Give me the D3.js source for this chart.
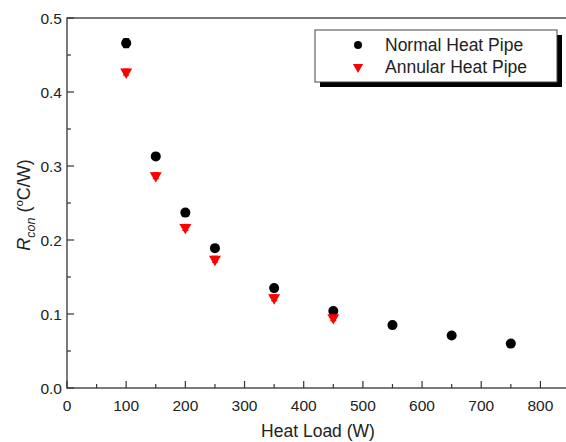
<!DOCTYPE html>
<html>
<head>
<meta charset="utf-8">
<script src="https://cdn.jsdelivr.net/npm/d3@7"></script>
<style>
  body { margin: 0; background: #fff; }
  text { font-family: "Liberation Sans", Arial, sans-serif; fill: #222; }
</style>
</head>
<body>
<div id="chart"></div>
<script>
// data
let loads = [100, 150, 200, 250, 350, 450, 550, 650, 750];
let normalR = [0.466, 0.313, 0.237, 0.189, 0.135, 0.104, 0.085, 0.071, 0.060];
let normalErr = [0.006, 0.004, 0.004, 0.003, 0.003, 0.003, 0.002, 0.002, 0.002];
let annularLoads = [100, 150, 200, 250, 350, 450];
let annularR = [0.427, 0.287, 0.217, 0.174, 0.122, 0.095];
let annularErr = [0.004, 0.004, 0.004, 0.004, 0.004, 0.004];
let xTicks = [0, 100, 200, 300, 400, 500, 600, 700, 800];
let yTicks = [0.0, 0.1, 0.2, 0.3, 0.4, 0.5];
let seriesNames = ["Normal Heat Pipe", "Annular Heat Pipe"];

let width = 566;
let height = 442;
let margin = {left: 67, top: 18, bottom: 54};
let plotBottom = height - margin.bottom;

let svg = d3.select("#chart").append("svg")
  .attr("width", width)
  .attr("height", height);

let x = d3.scaleLinear().domain([0, 850]).range([margin.left, margin.left + 503]);
let y = d3.scaleLinear().domain([0, 0.5]).range([plotBottom, margin.top]);

// frame
svg.append("rect")
  .attr("x", x(0)).attr("y", y(0.5))
  .attr("width", x(850) - x(0)).attr("height", y(0) - y(0.5))
  .attr("fill", "none").attr("stroke", "#333").attr("stroke-width", 1.3);

// x axis ticks (inward)
let xMinor = d3.range(50, 850, 100);
svg.selectAll(".xmaj").data(xTicks).enter().append("line")
  .attr("x1", d => x(d)).attr("x2", d => x(d))
  .attr("y1", y(0)).attr("y2", y(0) - 7)
  .attr("stroke", "#333").attr("stroke-width", 1.2);
svg.selectAll(".xmin").data(xMinor).enter().append("line")
  .attr("x1", d => x(d)).attr("x2", d => x(d))
  .attr("y1", y(0)).attr("y2", y(0) - 4)
  .attr("stroke", "#333").attr("stroke-width", 1.2);
svg.selectAll(".xlab").data(xTicks).enter().append("text")
  .attr("x", d => x(d)).attr("y", y(0) + 23)
  .attr("text-anchor", "middle").attr("font-size", 15.5)
  .text(d => d);

// y axis ticks (inward)
let yMinor = [0.05, 0.15, 0.25, 0.35, 0.45];
svg.selectAll(".ymaj").data(yTicks).enter().append("line")
  .attr("x1", x(0)).attr("x2", x(0) + 7)
  .attr("y1", d => y(d)).attr("y2", d => y(d))
  .attr("stroke", "#333").attr("stroke-width", 1.2);
svg.selectAll(".ymin").data(yMinor).enter().append("line")
  .attr("x1", x(0)).attr("x2", x(0) + 4)
  .attr("y1", d => y(d)).attr("y2", d => y(d))
  .attr("stroke", "#333").attr("stroke-width", 1.2);
svg.selectAll(".ylab").data(yTicks).enter().append("text")
  .attr("x", x(0) - 5).attr("y", d => y(d) + 5.5)
  .attr("text-anchor", "end").attr("font-size", 15.5)
  .text(d3.format(".1f"));

// axis titles
svg.append("text")
  .attr("x", 318).attr("y", 437)
  .attr("text-anchor", "middle").attr("font-size", 17.5)
  .text("Heat Load (W)");

let ylab = svg.append("text")
  .attr("transform", "translate(30," + 205 + ") rotate(-90)")
  .attr("text-anchor", "middle").attr("font-size", 18);
ylab.append("tspan").attr("font-style", "italic").text("R");
ylab.append("tspan").attr("font-size", 12.5).attr("font-style", "italic").attr("dy", 5).text("con");
ylab.append("tspan").attr("dy", -5).text(" (");
ylab.append("tspan").attr("font-size", 11.5).attr("dy", -7).text("o");
ylab.append("tspan").attr("dy", 7).text("C/W)");

// error bars
let normal = loads.map((d, i) => ({x: d, y: normalR[i], e: normalErr[i]}));
let annular = annularLoads.map((d, i) => ({x: d, y: annularR[i], e: annularErr[i]}));

function errBars(data, color) {
  let g = svg.append("g").attr("stroke", color).attr("stroke-width", 1.2);
  g.selectAll("line.v").data(data).enter().append("line")
    .attr("x1", d => x(d.x)).attr("x2", d => x(d.x))
    .attr("y1", d => y(d.y - d.e)).attr("y2", d => y(d.y + d.e));
  g.selectAll("line.t").data(data).enter().append("line")
    .attr("x1", d => x(d.x) - 3).attr("x2", d => x(d.x) + 3)
    .attr("y1", d => y(d.y + d.e)).attr("y2", d => y(d.y + d.e));
  g.selectAll("line.b").data(data).enter().append("line")
    .attr("x1", d => x(d.x) - 3).attr("x2", d => x(d.x) + 3)
    .attr("y1", d => y(d.y - d.e)).attr("y2", d => y(d.y - d.e));
}
errBars(normal, "#000");
errBars(annular, "#f00");

let tri = d3.symbol().type(d3.symbolTriangle).size(62);

svg.selectAll(".normal").data(normal).enter().append("circle")
  .attr("cx", d => x(d.x)).attr("cy", d => y(d.y))
  .attr("r", 5).attr("fill", "#000");

svg.selectAll(".annular").data(annular).enter().append("path")
  .attr("d", tri)
  .attr("transform", d => "translate(" + x(d.x) + "," + y(d.y) + ") rotate(180)")
  .attr("fill", "#f00");

// legend with drop shadow
let lx = 315, ly = 30, lw = 242, lh = 52;
svg.append("rect").attr("x", lx + 5).attr("y", ly + 5).attr("width", lw).attr("height", lh).attr("fill", "#000");
svg.append("rect").attr("x", lx).attr("y", ly).attr("width", lw).attr("height", lh)
  .attr("fill", "#fff").attr("stroke", "#444").attr("stroke-width", 1);

let legend = svg.append("g").selectAll("g").data(seriesNames).enter().append("g")
  .attr("transform", (d, i) => "translate(" + (lx + 43) + "," + (ly + 15 + i * 22) + ")");
legend.each(function(d, i) {
  let g = d3.select(this);
  if (i === 0) {
    g.append("circle").attr("r", 4).attr("fill", "#000");
  } else {
    g.append("path").attr("d", d3.symbol().type(d3.symbolTriangle).size(45)).attr("transform", "rotate(180)").attr("fill", "#f00");
  }
  g.append("text").attr("x", 27).attr("y", 6).attr("font-size", 17.5).text(d);
});
</script>
</body>
</html>
